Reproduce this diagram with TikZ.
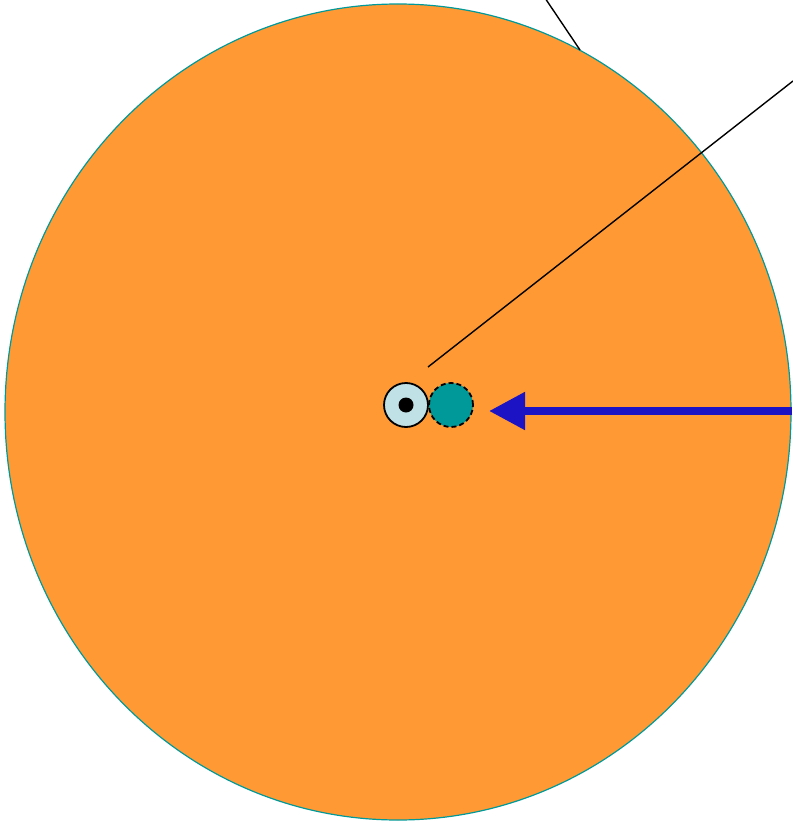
\documentclass[tikz,border=0pt]{standalone}
\usetikzlibrary{arrows.meta}
\definecolor{orangefill}{HTML}{FF9933}
\definecolor{tealedge}{HTML}{009999}
\definecolor{lightbluefill}{HTML}{C0E2E6}
\definecolor{arrowblue}{HTML}{1C14C4}
\tikzset{
  bigdisk/.style={fill=orangefill, draw=tealedge, line width=1.2pt},
  smallring/.style={circle, inner sep=0pt, minimum size=44pt, line width=1.8pt, draw=black},
  leader/.style={draw=black, line width=1.4pt},
  pusharrow/.style={draw=arrowblue, line width=8pt, -{Triangle[length=36pt,width=36pt]}}
}
\begin{document}
\begin{tikzpicture}[x=1pt,y=-1pt]
\useasboundingbox (0,0) rectangle (792,821);
\fill[bigdisk] (398,412) ellipse [x radius=393, y radius=408];
\coordinate (l1a) at (545,-2);
\coordinate (l1b) at (580,50);
\draw[leader] (l1a) -- (l1b);
\coordinate (l2a) at (793,81);
\coordinate (l2b) at (428,367);
\draw[leader] (l2a) -- (l2b);
\node[smallring, fill=lightbluefill] (ring) at (406,405) {};
\node[circle, fill=black, inner sep=0pt, minimum size=15pt] (dot) at (ring.center) {};
\node[smallring, fill=tealedge, dash pattern=on 5pt off 3pt] (teal) at (451,405) {};
\coordinate (arrstart) at (792,411);
\coordinate (arrtip) at (489,411);
\draw[pusharrow] (arrstart) -- (arrtip);
\end{tikzpicture}
\end{document}
